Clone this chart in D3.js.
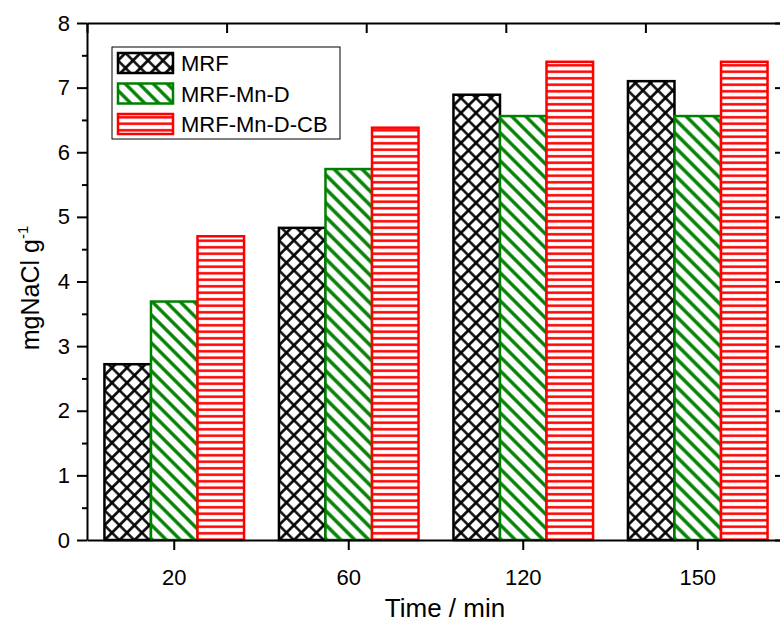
<!DOCTYPE html>
<html>
<head>
<meta charset="utf-8">
<script src="https://cdn.jsdelivr.net/npm/d3@7"></script>
<style>
  body { margin: 0; background: #fff; }
  text { font-family: "Liberation Sans", Arial, sans-serif; fill: #000; }
</style>
</head>
<body>
<div id="chart"></div>
<script>
// data
const categories = ["20", "60", "120", "150"]
const seriesNames = ["MRF", "MRF-Mn-D", "MRF-Mn-D-CB"]
const mrf = [2.72, 4.83, 6.89, 7.10]
const mrfMnD = [3.69, 5.74, 6.56, 6.56]
const mrfMnDCB = [4.70, 6.38, 7.40, 7.40]
const yTicks = [0, 1, 2, 3, 4, 5, 6, 7, 8]
const yMinorTicks = [0.5, 1.5, 2.5, 3.5, 4.5, 5.5, 6.5, 7.5]
const topTicks = [0, 1, 2, 3, 4, 5]

const seriesValues = [mrf, mrfMnD, mrfMnDCB]
const colors = ["#000000", "#008000", "#ff0000"]
const patternIds = ["pat-cross", "pat-diag", "pat-horiz"]

const W = 780, H = 622
const margin = { left: 87, right: -5, top: 23, bottom: 82 }
const plotW = W - margin.left - margin.right
const plotH = H - margin.top - margin.bottom

const svg = d3.select("#chart").append("svg")
  .attr("width", W).attr("height", H)

//
// patterns
//
const defs = svg.append("defs")

let p = defs.append("pattern").attr("id", "pat-cross")
  .attr("patternUnits", "userSpaceOnUse")
  .attr("width", 10.6).attr("height", 10.6)
  .attr("patternTransform", "rotate(45)")
p.append("rect").attr("width", 10.6).attr("height", 10.6).attr("fill", "#fff")
p.append("path").attr("d", "M0,5.3H10.6M5.3,0V10.6")
  .attr("stroke", "#000").attr("stroke-width", 2.6)

p = defs.append("pattern").attr("id", "pat-diag")
  .attr("patternUnits", "userSpaceOnUse")
  .attr("width", 9.9).attr("height", 9.9)
  .attr("patternTransform", "rotate(45)")
p.append("rect").attr("width", 9.9).attr("height", 9.9).attr("fill", "#fff")
p.append("path").attr("d", "M0,4.95H9.9")
  .attr("stroke", "#008000").attr("stroke-width", 3.4)

p = defs.append("pattern").attr("id", "pat-horiz")
  .attr("patternUnits", "userSpaceOnUse")
  .attr("width", 10).attr("height", 6.5)
p.append("rect").attr("width", 10).attr("height", 6.5).attr("fill", "#fff")
p.append("path").attr("d", "M0,3.25H10")
  .attr("stroke", "#ff0000").attr("stroke-width", 2.5)

const g = svg.append("g")
  .attr("transform", "translate(" + margin.left + "," + margin.top + ")")

//
// scales
//
const x0 = d3.scaleBand()
  .domain(categories)
  .range([0, plotW])
  .paddingInner(0.2)
  .paddingOuter(0.1)

const x1 = d3.scaleBand()
  .domain(seriesNames)
  .range([0, x0.bandwidth()])

const y = d3.scaleLinear()
  .domain([0, 8])
  .range([plotH, 0])

const xTop = d3.scaleLinear()
  .domain([0, 5])
  .range([0, plotW])

//
// bars
//
const rows = categories.map(function(c, i) {
  return { cat: c, vals: seriesNames.map(function(s, j) {
    return { name: s, idx: j, value: seriesValues[j][i] }
  }) }
})

g.selectAll("g.grp")
  .data(rows)
  .enter()
  .append("g")
    .attr("class", "grp")
    .attr("transform", function(d) { return "translate(" + x0(d.cat) + ",0)" })
  .selectAll("rect")
  .data(function(d) { return d.vals })
  .enter()
  .append("rect")
    .attr("x", function(d) { return x1(d.name) })
    .attr("y", function(d) { return y(d.value) })
    .attr("width", x1.bandwidth())
    .attr("height", function(d) { return plotH - y(d.value) })
    .attr("fill", function(d) { return "url(#" + patternIds[d.idx] + ")" })
    .attr("stroke", function(d) { return colors[d.idx] })
    .attr("stroke-width", 2.5)

//
// axes
//
const axisStyle = function(sel) {
  sel.select(".domain").attr("stroke", "#000").attr("stroke-width", 2)
  sel.selectAll(".tick line").attr("stroke", "#000").attr("stroke-width", 2)
  sel.selectAll("text").style("font-family", "Liberation Sans, Arial, sans-serif")
}

// left
g.append("g")
  .call(d3.axisLeft(y).tickValues(yTicks).tickSize(10).tickPadding(7).tickSizeOuter(0))
  .call(axisStyle)
  .selectAll("text").attr("font-size", 22)
g.append("g")
  .call(d3.axisLeft(y).tickValues(yMinorTicks).tickSize(5).tickFormat(""))
  .call(axisStyle)
  .select(".domain").remove()

// right (mirror, inward ticks)
g.append("g")
  .attr("transform", "translate(" + plotW + ",0)")
  .call(d3.axisLeft(y).tickValues(yTicks).tickSize(10).tickFormat("").tickSizeOuter(0))
  .call(axisStyle)
g.append("g")
  .attr("transform", "translate(" + plotW + ",0)")
  .call(d3.axisLeft(y).tickValues(yMinorTicks).tickSize(5).tickFormat(""))
  .call(axisStyle)
  .select(".domain").remove()

// bottom
g.append("g")
  .attr("transform", "translate(0," + plotH + ")")
  .call(d3.axisBottom(x0).tickSize(10).tickPadding(19).tickSizeOuter(0))
  .call(axisStyle)
  .selectAll("text").attr("font-size", 22)

// top (mirror, inward ticks)
g.append("g")
  .call(d3.axisBottom(xTop).tickValues(topTicks).tickSize(10).tickFormat("").tickSizeOuter(0))
  .call(axisStyle)

//
// axis titles
//
svg.append("text")
  .attr("x", 445)
  .attr("y", 617)
  .attr("text-anchor", "middle")
  .attr("font-size", 26)
  .text("Time / min")

const yt = svg.append("text")
  .attr("transform", "translate(39,288) rotate(-90)")
  .attr("text-anchor", "middle")
  .attr("font-size", 25)
yt.append("tspan").text("mgNaCl g")
yt.append("tspan").attr("font-size", 15).attr("dy", -11).text("-1")

//
// legend
//
const legend = svg.append("g").attr("transform", "translate(112,47)")
legend.append("rect")
  .attr("width", 228).attr("height", 92)
  .attr("fill", "#fff").attr("stroke", "#000").attr("stroke-width", 1)

const items = legend.selectAll("g.item")
  .data(seriesNames)
  .enter()
  .append("g")
    .attr("class", "item")
    .attr("transform", function(d, i) { return "translate(6," + (6 + i * 30.5) + ")" })
items.append("rect")
  .attr("width", 55).attr("height", 20)
  .attr("fill", function(d, i) { return "url(#" + patternIds[i] + ")" })
  .attr("stroke", function(d, i) { return colors[i] })
  .attr("stroke-width", 2.5)
items.append("text")
  .attr("x", 63).attr("y", 18)
  .attr("font-size", 22)
  .text(function(d) { return d })
</script>
</body>
</html>
